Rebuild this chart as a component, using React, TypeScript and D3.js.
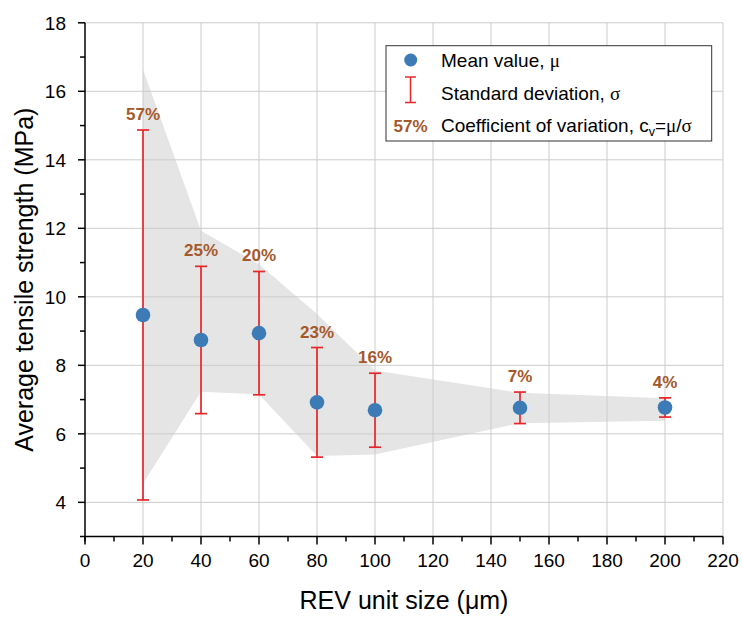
import React from "react";
import * as d3 from "d3";

const sizes = [20, 40, 60, 80, 100, 150, 200];
const meanValues = [9.47, 8.74, 8.94, 6.92, 6.69, 6.76, 6.77];
const sigmaValues = [5.4, 2.15, 1.8, 1.6, 1.08, 0.46, 0.28];
const cvLabels = ["57%", "25%", "20%", "23%", "16%", "7%", "4%"];
const bandUpper = [16.64, 11.93, 10.95, 9.5, 7.85, 7.2, 7.04];
const bandLower = [4.55, 7.23, 7.15, 5.35, 5.4, 6.31, 6.38];
const xTicks = [0, 20, 40, 60, 80, 100, 120, 140, 160, 180, 200, 220];
const yTicks = [4, 6, 8, 10, 12, 14, 16, 18];

const W = 742;
const H = 617;
const left = 85;
const right = 723;
const top = 22.8;
const bottom = 536.6;

const FONT = "Arial, 'Liberation Sans', sans-serif";
const SERIF = "'Liberation Serif', 'DejaVu Serif', serif";
const BLUE = "#3C7BB6";
const RED = "#E8262A";
const BROWN = "#A5582A";
const GRID = "#CCCCCC";
const BAND = "#E5E5E5";

export default function App() {
  const x = d3.scaleLinear().domain([0, 220]).range([left, right]);
  const y = d3.scaleLinear().domain([3, 18]).range([bottom, top]);

  const bandData = sizes.map((s, i) => ({ s, hi: bandUpper[i], lo: bandLower[i] }));
  const area = d3
    .area<{ s: number; hi: number; lo: number }>()
    .x((d) => x(d.s))
    .y0((d) => y(d.lo))
    .y1((d) => y(d.hi));

  const xMinor = d3.range(10, 220, 20);
  const yMinor = d3.range(5, 18, 2);

  return (
    <svg width={W} height={H} style={{ position: "absolute", left: 0, top: 0, background: "#fff" }}>
      <rect x={0} y={0} width={W} height={H} fill="#fff" />
      {/* band */}
      <path d={area(bandData) || ""} fill={BAND} />
      {/* grid */}
      {xTicks.filter((t) => t > 0).map((t) => (
        <line key={"gx" + t} x1={x(t)} x2={x(t)} y1={y(18)} y2={y(3)} stroke={GRID} strokeWidth={1} />
      ))}
      {yTicks.map((t) => (
        <line key={"gy" + t} x1={x(0)} x2={x(220)} y1={y(t)} y2={y(t)} stroke={GRID} strokeWidth={1} />
      ))}
      {/* axes */}
      <line x1={x(0) - 5} x2={x(220)} y1={y(3)} y2={y(3)} stroke="#000" strokeWidth={1.5} />
      <line x1={x(0)} x2={x(0)} y1={y(18)} y2={y(3) + 5} stroke="#000" strokeWidth={1.5} />
      {xTicks.map((t) => (
        <g key={"xt" + t}>
          <line x1={x(t)} x2={x(t)} y1={y(3)} y2={y(3) + 8} stroke="#000" strokeWidth={1.5} />
          <text x={x(t)} y={567} textAnchor="middle" fontFamily={FONT} fontSize={19} fill="#000">
            {t}
          </text>
        </g>
      ))}
      {xMinor.map((t) => (
        <line key={"xm" + t} x1={x(t)} x2={x(t)} y1={y(3)} y2={y(3) + 5} stroke="#000" strokeWidth={1.5} />
      ))}
      {yTicks.map((t) => (
        <g key={"yt" + t}>
          <line x1={x(0) - 7} x2={x(0)} y1={y(t)} y2={y(t)} stroke="#000" strokeWidth={1.5} />
          <text x={66} y={y(t) + 7} textAnchor="end" fontFamily={FONT} fontSize={19} fill="#000">
            {t}
          </text>
        </g>
      ))}
      {yMinor.map((t) => (
        <line key={"ym" + t} x1={x(0) - 5} x2={x(0)} y1={y(t)} y2={y(t)} stroke="#000" strokeWidth={1.5} />
      ))}
      {/* titles */}
      <text x={(left + right) / 2} y={609} textAnchor="middle" fontFamily={FONT} fontSize={25} fill="#000">
        REV unit size (μm)
      </text>
      <text
        transform={`translate(33, ${(top + bottom) / 2}) rotate(-90)`}
        textAnchor="middle"
        fontFamily={FONT}
        fontSize={25}
        fill="#000"
      >
        Average tensile strength (MPa)
      </text>
      {/* error bars */}
      {sizes.map((s, i) => {
        const hi = meanValues[i] + sigmaValues[i];
        const lo = meanValues[i] - sigmaValues[i];
        return (
          <g key={"eb" + s}>
            <line x1={x(s)} x2={x(s)} y1={y(hi)} y2={y(lo)} stroke={RED} strokeWidth={1.7} />
            <line x1={x(s) - 6} x2={x(s) + 6} y1={y(hi)} y2={y(hi)} stroke={RED} strokeWidth={1.7} />
            <line x1={x(s) - 6} x2={x(s) + 6} y1={y(lo)} y2={y(lo)} stroke={RED} strokeWidth={1.7} />
          </g>
        );
      })}
      {/* points */}
      {sizes.map((s, i) => (
        <circle key={"pt" + s} cx={x(s)} cy={y(meanValues[i])} r={7.3} fill={BLUE} />
      ))}
      {/* cv labels */}
      {sizes.map((s, i) => (
        <text
          key={"cv" + s}
          x={x(s)}
          y={y(meanValues[i] + sigmaValues[i]) - 10}
          textAnchor="middle"
          fontFamily={FONT}
          fontWeight="bold"
          fontSize={17}
          fill={BROWN}
        >
          {cvLabels[i]}
        </text>
      ))}
      {/* legend */}
      <g>
        <rect x={386} y={45.7} width={325.7} height={95.3} fill="#fff" stroke="#333" strokeWidth={1} />
        <circle cx={410.7} cy={60} r={6.5} fill={BLUE} />
        <text x={441} y={67} fontFamily={FONT} fontSize={19} fill="#000">
          Mean value, <tspan fontFamily={SERIF}>μ</tspan>
        </text>
        <line x1={410.5} x2={410.5} y1={77} y2={102.5} stroke={RED} strokeWidth={1.5} />
        <line x1={405} x2={416} y1={77} y2={77} stroke={RED} strokeWidth={1.5} />
        <line x1={405} x2={416} y1={102.5} y2={102.5} stroke={RED} strokeWidth={1.5} />
        <text x={441} y={99.5} fontFamily={FONT} fontSize={19} fill="#000">
          Standard deviation, <tspan fontFamily={SERIF}>σ</tspan>
        </text>
        <text x={410.5} y={131.5} textAnchor="middle" fontFamily={FONT} fontWeight="bold" fontSize={17} fill={BROWN}>
          57%
        </text>
        <text x={441} y={131.5} fontFamily={FONT} fontSize={19} fill="#000">
          Coefficient of variation, c
          <tspan fontSize={12.5} dy={4}>v</tspan>
          <tspan dy={-4}>=</tspan>
          <tspan fontFamily={SERIF}>μ</tspan>/<tspan fontFamily={SERIF}>σ</tspan>
        </text>
      </g>
    </svg>
  );
}
